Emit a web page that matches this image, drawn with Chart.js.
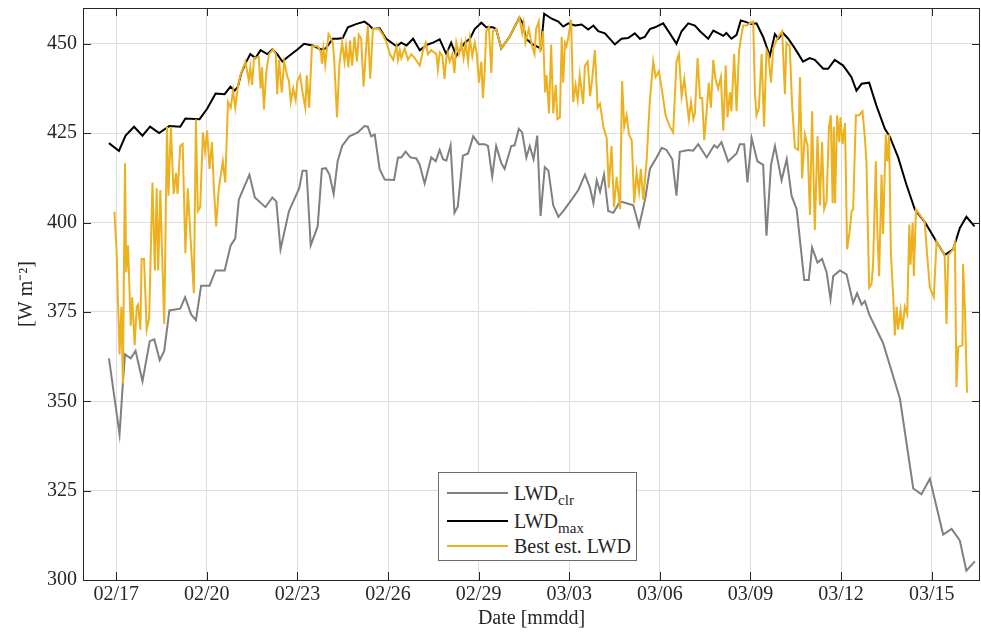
<!DOCTYPE html>
<html lang="en">
<head>
  <meta charset="UTF-8">
  <title>LWD</title>
  <script src="https://cdn.jsdelivr.net/npm/chart.js"></script>
  <style>
    body { margin: 0; background: #fff; }
    #wrap { position: relative; width: 981px; height: 633px; }
    #legend {
      position: absolute; left: 438px; top: 472px; width: 197px; height: 87px;
      border: 1px solid #6b6b6b; background: #fff;
      font-family: "Liberation Serif", "Times New Roman", serif; font-size: 20px; color: #262626;
    }
    #legend .row { position: absolute; left: 0; height: 24px; line-height: 24px; white-space: nowrap; }
    #legend .sample { position: absolute; left: 8px; top: 11px; width: 61px; height: 2px; }
    #legend .txt { position: absolute; left: 75px; top: 0; }
    #legend sub { font-size: 15px; vertical-align: -5px; line-height: 0; }
  </style>
</head>
<body>
<div id="wrap">
  <canvas id="grafica" width="981" height="633"></canvas>
  <div id="legend"></div>
</div>
<script>
// days counted from 02/17
const xTickDays = [0, 3, 6, 9, 12, 15, 18, 21, 24, 27];
const xTickLabels = ['02/17', '02/20', '02/23', '02/26', '02/29', '03/03', '03/06', '03/09', '03/12', '03/15'];
const yTicks = [300, 325, 350, 375, 400, 425, 450];

// LWD clr (grey)
const clrDays = [-0.24, 0.11, 0.22, 0.29, 0.48, 0.64, 0.87, 1.11, 1.26, 1.44, 1.59, 1.76, 2.12, 2.28, 2.48, 2.64, 2.81, 3.09, 3.29, 3.59, 3.79, 3.94, 4.06, 4.41, 4.59, 4.94, 5.17, 5.3, 5.44, 5.72, 6.06, 6.17, 6.3, 6.44, 6.67, 6.81, 6.94, 7.06, 7.2, 7.33, 7.48, 7.72, 8.0, 8.22, 8.33, 8.44, 8.56, 8.72, 8.89, 9.2, 9.33, 9.44, 9.58, 9.74, 9.94, 10.05, 10.21, 10.43, 10.58, 10.71, 10.82, 10.93, 11.07, 11.2, 11.31, 11.48, 11.65, 11.82, 12.01, 12.2, 12.31, 12.45, 12.58, 12.75, 12.86, 13.08, 13.19, 13.33, 13.44, 13.58, 13.69, 13.82, 13.94, 14.05, 14.19, 14.31, 14.47, 14.64, 14.8, 15.08, 15.3, 15.52, 15.69, 15.8, 15.91, 16.02, 16.15, 16.29, 16.46, 16.68, 16.9, 17.12, 17.31, 17.51, 17.67, 17.89, 18.06, 18.22, 18.41, 18.55, 18.66, 18.94, 19.1, 19.27, 19.55, 19.8, 19.9, 20.04, 20.26, 20.54, 20.65, 20.79, 20.9, 21.04, 21.23, 21.42, 21.53, 21.68, 21.81, 22.03, 22.2, 22.36, 22.53, 22.78, 22.93, 23.04, 23.22, 23.37, 23.52, 23.65, 23.74, 23.96, 24.18, 24.4, 24.53, 24.68, 24.79, 24.93, 25.39, 25.95, 26.39, 26.66, 26.94, 27.38, 27.66, 27.93, 28.15, 28.43];
const clrVals = [362.0, 340.8, 355.0, 363.1, 362.0, 364.1, 355.6, 366.8, 367.3, 361.5, 364.1, 375.4, 375.9, 379.1, 374.3, 372.7, 382.3, 382.3, 386.6, 386.6, 393.6, 395.5, 406.4, 413.4, 407.0, 404.3, 407.0, 405.9, 392.5, 403.2, 409.6, 414.5, 414.5, 393.6, 398.9, 415.0, 415.2, 413.4, 408.0, 417.1, 421.4, 424.1, 425.2, 427.0, 426.8, 424.1, 424.6, 415.0, 412.0, 411.9, 418.2, 418.2, 419.8, 418.2, 417.9, 416.1, 410.9, 418.2, 417.1, 420.3, 417.7, 417.3, 421.6, 402.7, 404.5, 418.7, 419.3, 424.1, 421.9, 421.9, 421.4, 412.8, 421.4, 416.6, 415.0, 421.4, 421.6, 426.2, 425.2, 418.2, 421.4, 417.7, 424.3, 401.8, 415.5, 414.5, 404.8, 401.6, 403.2, 406.4, 409.1, 413.4, 409.6, 405.4, 411.8, 408.6, 413.4, 403.2, 402.7, 405.9, 405.4, 404.8, 398.9, 406.4, 415.0, 418.2, 420.9, 420.3, 417.7, 407.5, 419.8, 420.3, 420.1, 421.9, 418.2, 421.6, 420.9, 422.5, 417.1, 419.3, 421.9, 421.9, 411.2, 423.6, 417.1, 416.1, 396.3, 416.1, 421.4, 411.8, 417.7, 407.5, 403.7, 383.9, 383.9, 393.0, 388.8, 389.8, 386.1, 378.6, 385.0, 386.6, 385.5, 377.5, 380.2, 377.0, 378.0, 374.3, 366.3, 350.7, 325.6, 324.0, 328.3, 312.7, 314.3, 311.1, 302.6, 305.2];

// LWD max (black)
const maxDays = [-0.24, 0.09, 0.31, 0.59, 0.87, 1.12, 1.42, 1.76, 2.12, 2.29, 2.76, 3.01, 3.29, 3.59, 3.78, 3.92, 4.03, 4.14, 4.31, 4.44, 4.61, 4.78, 5.0, 5.17, 5.33, 5.5, 5.72, 6.0, 6.22, 6.5, 6.78, 6.94, 7.17, 7.33, 7.5, 7.67, 7.94, 8.22, 8.39, 8.5, 8.72, 8.94, 9.28, 9.44, 9.61, 9.83, 10.05, 10.32, 10.49, 10.71, 10.93, 11.09, 11.26, 11.54, 11.71, 11.87, 12.09, 12.25, 12.47, 12.58, 12.75, 13.02, 13.35, 13.46, 13.57, 13.79, 14.06, 14.17, 14.42, 14.64, 14.8, 14.97, 15.19, 15.41, 15.63, 15.8, 15.96, 16.18, 16.51, 16.73, 16.95, 17.17, 17.34, 17.5, 17.67, 17.84, 18.11, 18.33, 18.55, 18.72, 18.94, 19.16, 19.33, 19.6, 19.77, 19.93, 20.1, 20.2, 20.37, 20.54, 20.68, 20.81, 21.04, 21.2, 21.42, 21.64, 21.81, 21.92, 22.08, 22.25, 22.47, 22.74, 22.96, 23.13, 23.41, 23.57, 23.79, 24.07, 24.34, 24.51, 24.68, 24.93, 25.17, 25.45, 25.61, 25.89, 26.16, 26.44, 26.77, 27.16, 27.43, 27.71, 27.93, 28.15, 28.42];
const maxVals = [422.2, 420.0, 424.3, 426.8, 424.3, 426.8, 425.0, 427.0, 426.8, 429.1, 428.9, 431.8, 436.1, 435.9, 438.0, 436.9, 438.0, 441.8, 445.0, 447.1, 446.0, 448.2, 447.1, 448.4, 447.1, 445.0, 446.6, 448.4, 450.0, 449.5, 448.4, 448.7, 451.4, 451.4, 451.6, 454.6, 455.5, 456.2, 455.1, 454.1, 454.3, 451.4, 449.3, 450.3, 449.5, 451.4, 448.2, 449.8, 450.3, 451.2, 447.1, 450.3, 446.6, 450.3, 451.4, 454.1, 455.9, 454.6, 454.6, 454.1, 448.7, 451.9, 457.3, 455.7, 451.4, 449.8, 448.7, 458.4, 457.0, 456.2, 454.8, 455.7, 455.1, 455.4, 454.0, 455.1, 453.5, 452.9, 449.8, 451.4, 451.6, 452.9, 451.4, 451.9, 454.1, 454.6, 455.7, 452.9, 450.0, 453.5, 455.7, 455.1, 453.5, 451.4, 453.7, 453.0, 452.2, 453.0, 451.4, 452.5, 456.5, 456.2, 455.5, 455.7, 451.9, 446.6, 452.7, 451.4, 453.0, 451.4, 448.7, 445.0, 446.0, 445.5, 443.0, 443.0, 445.5, 443.9, 440.7, 436.9, 438.8, 439.1, 432.7, 426.2, 424.1, 418.2, 410.7, 403.7, 400.2, 394.6, 390.9, 392.5, 398.4, 401.6, 398.9];

// Best estimate LWD (yellow)
const bestDays = [-0.06, 0.01, 0.11, 0.17, 0.22, 0.29, 0.33, 0.39, 0.48, 0.53, 0.61, 0.68, 0.72, 0.8, 0.84, 0.92, 1.01, 1.09, 1.2, 1.28, 1.34, 1.39, 1.46, 1.51, 1.59, 1.68, 1.73, 1.81, 1.9, 1.98, 2.03, 2.12, 2.2, 2.29, 2.37, 2.46, 2.57, 2.64, 2.7, 2.78, 2.87, 2.94, 3.01, 3.09, 3.17, 3.23, 3.31, 3.39, 3.53, 3.61, 3.7, 3.79, 3.87, 3.94, 4.03, 4.11, 4.28,
  4.39, 4.44, 4.5, 4.56, 4.72, 4.78, 4.83, 4.89, 4.97, 5.06, 5.19, 5.28, 5.33, 5.39, 5.48, 5.56, 5.67, 5.72, 5.78, 5.86, 5.94, 6.0, 6.09, 6.17, 6.26, 6.31, 6.39, 6.48, 6.67, 6.78, 6.81, 6.86, 6.92, 6.97, 7.03, 7.17, 7.22, 7.31, 7.39, 7.48, 7.56, 7.61, 7.69, 7.74, 7.81, 7.89, 7.97, 8.03, 8.11, 8.19, 8.26, 8.33, 8.41, 8.5, 8.7, 8.83, 8.94,
  9.06, 9.17, 9.28, 9.33, 9.39, 9.44, 9.55, 9.66, 9.77, 9.88, 10.05, 10.16, 10.25, 10.32, 10.43, 10.6, 10.65, 10.71, 10.8, 10.87, 10.93, 10.98, 11.04, 11.13, 11.2, 11.26, 11.35, 11.43, 11.5, 11.57, 11.65, 11.71, 11.79, 11.87, 11.94, 12.01, 12.09, 12.14, 12.2, 12.25, 12.34, 12.42, 12.47, 12.58, 12.75, 13.02, 13.35, 13.44, 13.49, 13.55, 13.66, 13.77, 13.85, 13.9, 13.99, 14.04, 14.13, 14.2,
  14.25, 14.33, 14.4, 14.47, 14.55, 14.61, 14.69, 14.75, 14.8, 14.86, 14.91, 14.97, 15.06, 15.13, 15.21, 15.28, 15.35, 15.46, 15.52, 15.61, 15.69, 15.76, 15.85, 15.94, 16.02, 16.13, 16.24, 16.31, 16.4, 16.48, 16.57, 16.68, 16.75, 16.82, 16.9, 16.98, 17.07, 17.15, 17.23, 17.31, 17.37, 17.45, 17.56, 17.67, 17.78, 17.86, 17.97, 18.06, 18.19, 18.33, 18.44, 18.55, 18.63, 18.72, 18.81, 18.88,
  18.96, 19.03, 19.11, 19.16, 19.25, 19.33, 19.4, 19.47, 19.55, 19.62, 19.69, 19.77, 19.84, 19.93, 20.02, 20.1, 20.18, 20.24, 20.32, 20.37, 20.46, 20.54, 20.62, 20.68, 20.76, 20.87, 20.98, 21.09, 21.15, 21.2, 21.28, 21.37, 21.45, 21.53, 21.59, 21.68, 21.75, 21.83, 21.92, 22.05, 22.14, 22.19, 22.3, 22.38, 22.47, 22.58, 22.64, 22.71, 22.8, 22.89, 22.97, 23.04, 23.13, 23.22, 23.3, 23.37, 23.44, 23.52, 23.6, 23.66,
  23.72, 23.76, 23.8, 23.87, 23.94, 23.98, 24.05, 24.13, 24.2, 24.29, 24.35, 24.4, 24.49, 24.6, 24.71, 24.79, 24.84, 24.93, 25.01, 25.06, 25.15, 25.2, 25.26, 25.34, 25.39, 25.48, 25.53, 25.59, 25.65, 25.73, 25.78, 25.84, 25.89, 25.97, 26.03, 26.11, 26.19, 26.26, 26.3, 26.37, 26.41, 26.48, 26.77, 26.85, 26.94, 27.07, 27.16, 27.43, 27.49, 27.55, 27.71, 27.77, 27.82, 27.88, 28.02, 28.04, 28.1, 28.17];
const bestVals = [403.0, 392.5, 363.1, 376.4, 355.0, 416.6, 386.1, 393.6, 371.1, 379.1, 365.7, 376.4, 377.0, 370.0, 389.8, 389.8, 370.0, 373.2, 411.2, 386.6, 409.6, 386.6, 409.1, 393.6, 371.6, 426.8, 407.5, 426.8, 408.0, 413.9, 408.0, 421.4, 422.0, 391.4, 409.6, 395.7, 380.2, 428.9, 403.2, 404.3, 425.2, 419.8, 425.7, 415.0, 422.5, 410.2, 398.9, 409.1, 417.1, 411.2, 433.7, 432.1, 436.9, 432.1, 438.0, 441.2, 445.0,
  439.6, 443.4, 438.5, 446.0, 446.3, 437.5, 443.4, 431.6, 442.3, 447.1, 448.4, 447.1, 435.9, 445.5, 436.4, 445.0, 440.7, 439.6, 433.7, 437.5, 434.3, 439.6, 441.2, 436.4, 432.1, 441.2, 432.1, 449.3, 449.3, 447.6, 444.4, 448.7, 444.1, 448.2, 452.7, 450.5, 445.0, 429.4, 444.4, 450.3, 445.0, 449.3, 443.4, 450.9, 443.9, 451.9, 445.0, 452.5, 451.4, 438.0, 447.1, 455.1, 440.2, 454.1, 454.1, 452.5, 450.6,
  447.1, 445.5, 449.3, 445.5, 448.2, 446.0, 448.7, 445.5, 447.1, 446.0, 443.9, 448.2, 450.3, 447.1, 448.2, 447.1, 442.8, 447.6, 446.6, 440.2, 446.0, 447.6, 445.0, 447.1, 441.8, 450.3, 447.1, 450.3, 446.0, 450.3, 445.0, 451.4, 446.6, 450.3, 447.1, 439.1, 445.0, 434.8, 442.3, 453.5, 454.6, 441.8, 453.5, 454.1, 448.7, 451.9, 457.3, 453.0, 455.7, 450.3, 454.1, 449.3, 447.1, 454.1, 456.2, 447.6, 453.5, 436.4,
  441.2, 430.5, 449.8, 430.5, 438.5, 428.9, 429.4, 451.9, 439.1, 450.3, 449.3, 451.9, 456.7, 433.7, 438.5, 434.3, 441.2, 433.2, 443.9, 445.0, 435.3, 440.2, 448.2, 432.1, 433.2, 426.8, 423.6, 409.6, 421.4, 404.3, 412.8, 403.7, 439.6, 426.8, 430.0, 424.6, 423.0, 405.4, 413.9, 408.6, 415.0, 406.4, 417.1, 434.3, 445.0, 440.7, 442.3, 437.5, 430.0, 426.8, 425.2, 445.0, 447.1, 435.3, 440.2, 434.5,
  428.9, 433.7, 428.9, 430.5, 446.0, 434.8, 434.8, 423.0, 431.1, 439.1, 432.1, 445.5, 440.2, 437.5, 440.7, 425.7, 443.9, 429.4, 436.4, 431.1, 447.1, 431.1, 447.6, 451.4, 455.1, 455.1, 455.7, 456.2, 435.9, 430.0, 432.1, 447.1, 426.8, 448.2, 447.1, 439.1, 448.7, 450.3, 451.9, 453.5, 435.9, 450.3, 449.3, 432.7, 420.9, 420.3, 440.7, 412.3, 424.6, 421.4, 402.1, 431.1, 397.9, 424.1, 404.8, 422.5, 403.7, 405.9, 426.8, 430.0,
  405.4, 426.8, 405.4, 430.0, 422.5, 429.4, 421.9, 427.8, 392.5, 397.9, 403.2, 403.7, 430.0, 430.0, 431.1, 423.6, 417.1, 381.8, 382.9, 388.2, 417.1, 397.9, 385.0, 413.4, 396.8, 424.6, 417.1, 424.6, 391.4, 378.6, 368.4, 376.4, 370.0, 375.4, 370.0, 376.4, 374.3, 399.4, 388.2, 400.0, 385.0, 403.7, 400.2, 390.9, 381.8, 379.1, 394.6, 390.9, 371.6, 390.9, 392.5, 394.1, 354.0, 365.2, 365.7, 388.4, 375.9, 352.4];

const series = [
  { name: 'LWD', sub: 'clr', days: clrDays, vals: clrVals, color: '#808080', order: 2 },
  { name: 'LWD', sub: 'max', days: maxDays, vals: maxVals, color: '#000000', order: 1 },
  { name: 'Best est. LWD', sub: '', days: bestDays, vals: bestVals, color: '#EDB120', order: 0 }
];

const serif = "'Liberation Serif', 'Times New Roman', serif";
const txtColor = '#262626';

// box round the plot plus inward tick marks on all four sides
const boxPlugin = {
  id: 'box',
  afterDraw(chart) {
    const { ctx, chartArea: a, scales } = chart;
    const tl = 8;
    ctx.save();
    ctx.strokeStyle = txtColor;
    ctx.lineWidth = 1;
    ctx.beginPath();
    xTickDays.forEach(d => {
      const x = Math.round(scales.x.getPixelForValue(d)) + 0.5;
      ctx.moveTo(x, a.bottom); ctx.lineTo(x, a.bottom - tl);
      ctx.moveTo(x, a.top); ctx.lineTo(x, a.top + tl);
    });
    yTicks.forEach(v => {
      const y = Math.round(scales.y.getPixelForValue(v)) + 0.5;
      ctx.moveTo(a.left, y); ctx.lineTo(a.left + tl, y);
      ctx.moveTo(a.right, y); ctx.lineTo(a.right - tl, y);
    });
    ctx.stroke();
    ctx.strokeRect(Math.round(a.left) + 0.5, Math.round(a.top) + 0.5,
      Math.round(a.right - a.left) - 1, Math.round(a.bottom - a.top));
    ctx.restore();
  }
};

new Chart(document.getElementById('grafica').getContext('2d'), {
  type: 'line',
  data: {
    datasets: series.map(s => ({
      label: s.name + (s.sub ? ' ' + s.sub : ''),
      data: s.days.map((d, i) => ({ x: d, y: s.vals[i] })),
      borderColor: s.color,
      backgroundColor: s.color,
      borderWidth: 2,
      pointRadius: 0,
      tension: 0,
      fill: false,
      order: s.order
    }))
  },
  options: {
    responsive: false,
    animation: false,
    layout: { padding: { top: 8, right: 1, left: 0, bottom: 0 } },
    plugins: { legend: { display: false }, tooltip: { enabled: false } },
    scales: {
      x: {
        type: 'linear', min: -1.1, max: 28.6,
        afterBuildTicks: s => { s.ticks = xTickDays.map(v => ({ value: v })); },
        afterFit: s => { s.height = 53; s.paddingLeft = 0; s.paddingRight = 0; },
        ticks: {
          autoSkip: false, maxRotation: 0, padding: 3, color: txtColor,
          font: { family: serif, size: 20 },
          callback: v => xTickLabels[xTickDays.indexOf(v)]
        },
        grid: { color: '#dedede', drawTicks: false },
        border: { display: false },
        title: { display: true, text: 'Date [mmdd]', color: txtColor,
          font: { family: serif, size: 20 }, padding: { top: 0, bottom: 2 } }
      },
      y: {
        min: 300, max: 460,
        afterBuildTicks: s => { s.ticks = yTicks.map(v => ({ value: v })); },
        afterFit: s => { s.width = 83; s.paddingTop = 0; s.paddingBottom = 0; },
        ticks: { padding: 6, color: txtColor, font: { family: serif, size: 20 } },
        grid: { color: '#dedede', drawTicks: false },
        border: { display: false },
        title: { display: true, text: '[W m\u207B\u00B2]', color: txtColor,
          font: { family: serif, size: 20 }, padding: { top: 15, bottom: 0 } }
      }
    }
  },
  plugins: [boxPlugin]
});

// legend with subscripts
const legend = document.getElementById('legend');
series.forEach((s, i) => {
  const row = document.createElement('div');
  row.className = 'row';
  row.style.top = [8, 36, 61][i] + 'px';
  row.style.width = '100%';
  row.innerHTML = '<div class="sample" style="background:' + s.color + '"></div>' +
    '<span class="txt">' + s.name + (s.sub ? '<sub>' + s.sub + '</sub>' : '') + '</span>';
  legend.appendChild(row);
});
</script>
</body>
</html>
